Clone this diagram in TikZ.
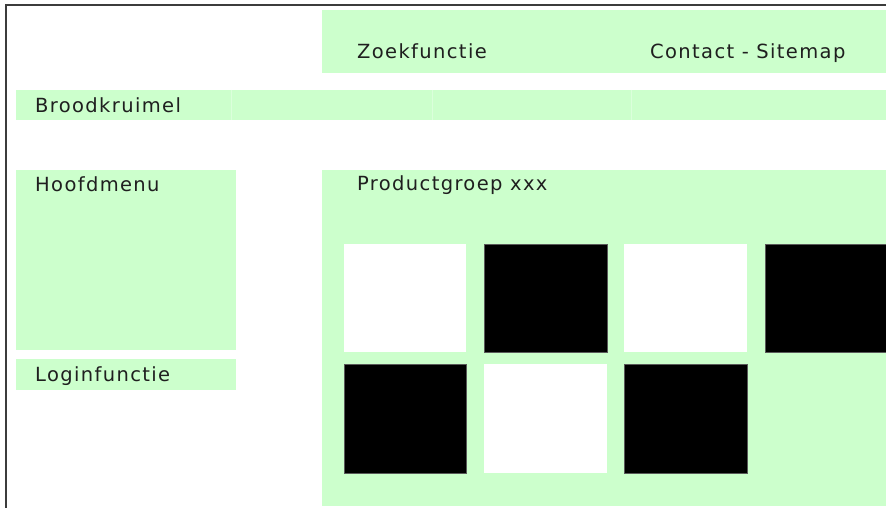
\documentclass[tikz,border=0pt]{standalone}
\usepackage{fontspec}
\setmainfont{DejaVu Sans}[LetterSpace=7]
\definecolor{pagegreen}{HTML}{CCFFCC}
\definecolor{framegray}{HTML}{3C3C3C}
\definecolor{edgegray}{HTML}{5A5A5A}
\tikzset{
  greenbox/.style={fill=pagegreen, draw=none},
  whitesq/.style={fill=white, draw=none},
  blacksq/.style={fill=black, draw=edgegray, line width=0.6pt},
  lbl/.style={anchor=base west, inner sep=0pt, font=\fontsize{19.5}{22}\selectfont, text=black!88}
}
\begin{document}
\begin{tikzpicture}[x=1pt,y=-1pt]
\useasboundingbox (0,0) rectangle (886,508);
\fill[white] (0,0) rectangle (886,508);
% green areas
\path[greenbox] (322,10) rectangle (886,73);
\path[greenbox] (16,90) rectangle (886,120);
\path[greenbox] (16,170) rectangle (236,350);
\path[greenbox] (16,359) rectangle (236,390);
\path[greenbox] (322,170) rectangle (886,506);
% faint breadcrumb separators
\draw[white!30!pagegreen, line width=0.5pt] (231,90) -- (231,120) (432,90) -- (432,120) (631,90) -- (631,120);
% squares
\begin{scope}
\clip (0,0) rectangle (886,508);
\path[whitesq] (344,244) rectangle (466,352);
\path[blacksq] (484,244) rectangle (607,352);
\path[whitesq] (624,244) rectangle (747,352);
\path[blacksq] (765,244) rectangle (900,352);
\path[blacksq] (344,364) rectangle (466,473);
\path[whitesq] (484,364) rectangle (607,473);
\path[blacksq] (624,364) rectangle (747,473);
\end{scope}
% labels
\node[lbl] (zoek) at (357,59) {Zoekfunctie};
\node[lbl] (contact) at (650,59) {Contact - Sitemap};
\node[lbl] (brood) at (35,113) {Broodkruimel};
\node[lbl] (hoofd) at (35,191) {Hoofdmenu};
\node[lbl] (prod) at (357,190) {Productgroep xxx};
\node[lbl] (login) at (35,381) {Loginfunctie};
% frame
\draw[framegray, line width=2.4pt] (6,508) -- (6,5) -- (886,5);
\end{tikzpicture}
\end{document}
